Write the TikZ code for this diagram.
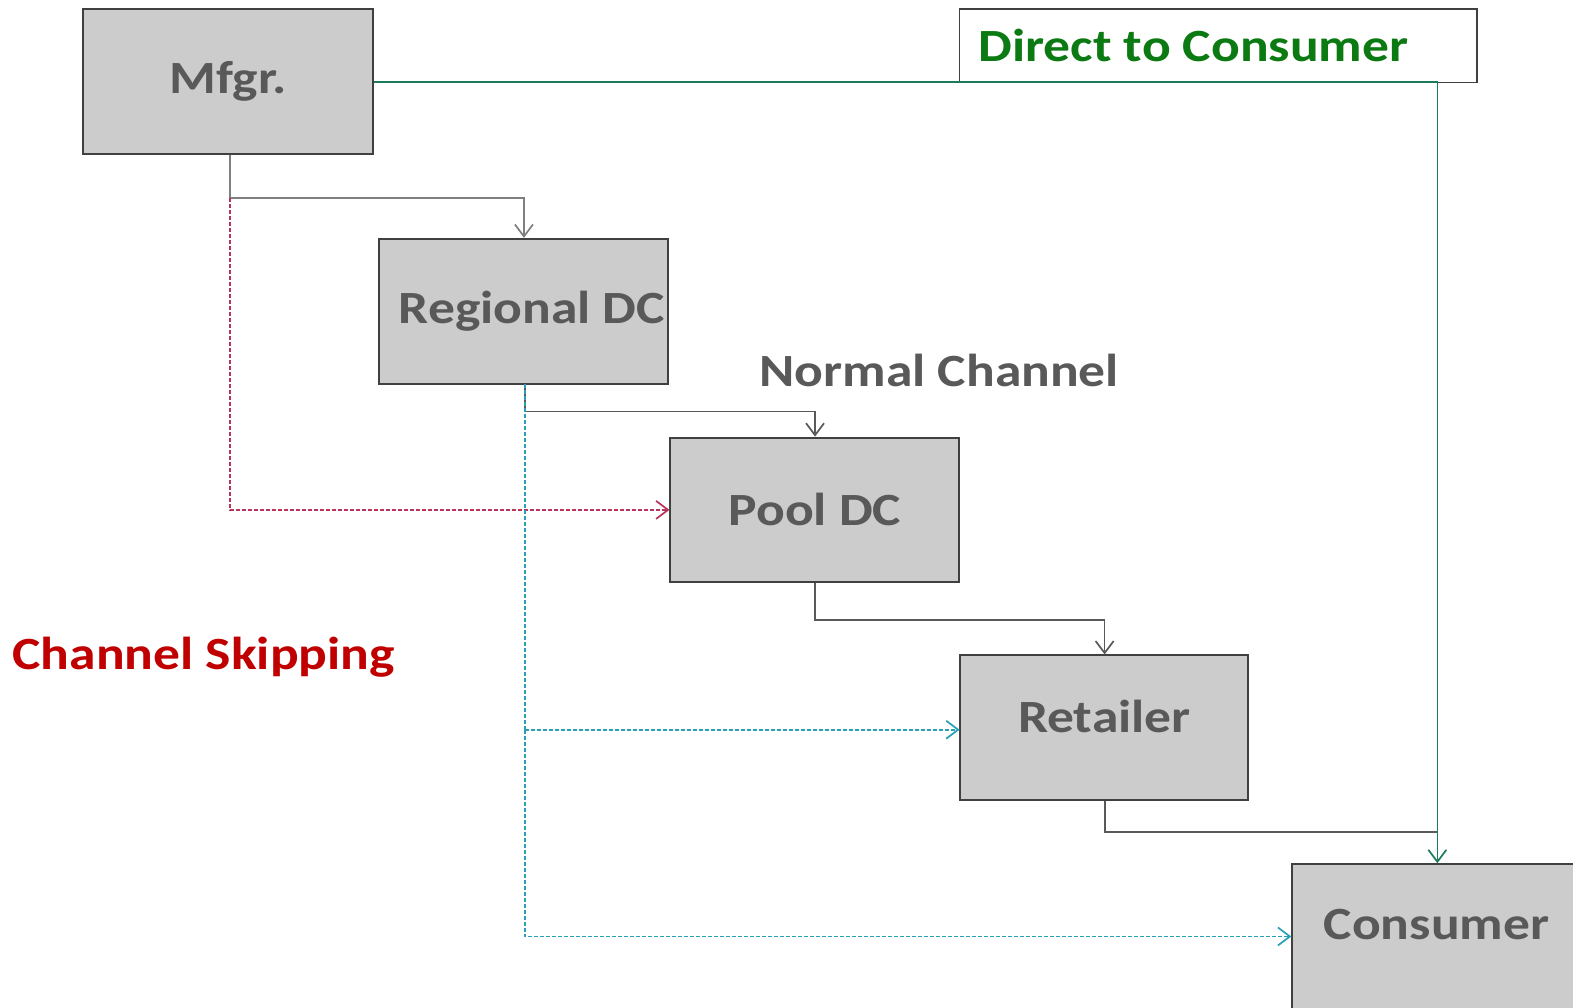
\documentclass[tikz,border=0pt]{standalone}
\usepackage{fontspec}
\usepackage{graphicx}
\setmainfont{Carlito}
\usetikzlibrary{arrows.meta}
\definecolor{boxfill}{HTML}{CCCCCC}
\definecolor{boxline}{HTML}{404040}
\definecolor{txtgray}{HTML}{595959}
\definecolor{lngray}{HTML}{7F7F7F}
\definecolor{lndark}{HTML}{595959}
\definecolor{dgreen}{HTML}{1A7A5A}
\definecolor{tgreen}{HTML}{0B7A12}
\definecolor{tred}{HTML}{C00000}
\definecolor{lred}{HTML}{B8335A}
\definecolor{lcyan}{HTML}{2A9FB8}
\newcommand{\wide}[1]{\scalebox{1.16}[1]{#1}}
\tikzset{
  stagebox/.style={draw=boxline, line width=2bp, fill=boxfill, minimum width=288bp, minimum height=144bp, inner sep=0pt,
    text=txtgray, font=\fontsize{46bp}{52bp}\selectfont\bfseries},
  labeltext/.style={inner sep=0pt, font=\fontsize{46bp}{52bp}\selectfont\bfseries},
  conn/.style={line width=1.7bp, -{Straight Barb[length=12bp,width=18bp,line width=1.7bp]}},
  plain/.style={line width=1.7bp},
  dashline/.style={line width=1.7bp, dash pattern=on 4bp off 2bp},
}
\begin{document}
\begin{tikzpicture}[x=1bp,y=-1bp,scale=1.0035,every node/.append style={transform shape}]
\useasboundingbox (0,0) rectangle (1567.5,1003.5);
\fill[white] (0,0) rectangle (1567.5,1003.5);
% Boxes
\node[stagebox, minimum width=289bp] (mfgr) at (227.5,81) {\wide{Mfgr.}};
\node[stagebox, minimum height=145bp] (reg) at (522,310.5) {\hspace*{16bp}\wide{Regional DC}};
\node[stagebox] (pool) at (812,508) {\wide{Pool DC}};
\node[stagebox, minimum width=287bp] (ret) at (1100.5,725) {\raisebox{23bp}{\wide{Retailer}}};
\node[stagebox, minimum width=289pt, minimum height=146bp] (cons) at (1431.5,934) {\raisebox{25bp}{\wide{Consumer}}};
% Direct to consumer box
\node[draw=boxline, line width=1.5bp, fill=white, minimum width=516bp, minimum height=73bp, inner sep=0pt] (dtcbox) at (1214,45.5) {};
\node[labeltext, text=tgreen, anchor=west] (dtc) at (975,45) {\wide{Direct to Consumer}};
\node[labeltext, text=txtgray] (normal) at (936,369) {\wide{Normal Channel}};
\node[labeltext, text=tred] (skip) at (203,655) {\wide{Channel Skipping}};
% coordinates
\coordinate (m1) at (229,197);
\coordinate (r1) at (523,410);
\coordinate (p1) at (812,618);
\coordinate (t1) at (1101,829);
\coordinate (gc) at (1432,82);
\coordinate (gj) at (1432,829);
\coordinate (cb) at (523,727);
\coordinate (cc) at (523,933);
\coordinate (rb) at (523,383);
% normal channel
\draw[plain, lngray] (mfgr.south -| m1) -- (m1);
\draw[conn, lngray] (m1) -| (reg.north);
\draw[conn, lndark] (rb) -- (r1) -| (pool.north);
\draw[conn, lndark] (pool.south) -- (p1) -| (ret.north);
\draw[plain, lndark] (ret.south -| t1) -- (t1) -- (gj);
% direct
\draw[conn, dgreen] (mfgr.east |- gc) -- (gc) -- (cons.north -| gc);
% skipping
\draw[dashline, lred, -{Straight Barb[length=12bp,width=18bp,line width=1.7bp]}] (m1) |- (pool.west);
\draw[dashline, lcyan] (rb) -- (cb);
\draw[dashline, lcyan, -{Straight Barb[length=12bp,width=18bp,line width=1.7bp]}] (cb) -- (cb -| ret.west);
\draw[dashline, lcyan, -{Straight Barb[length=12bp,width=18bp,line width=1.7bp]}] (cb) -- (cc) -- (cc -| cons.west);
\end{tikzpicture}
\end{document}
